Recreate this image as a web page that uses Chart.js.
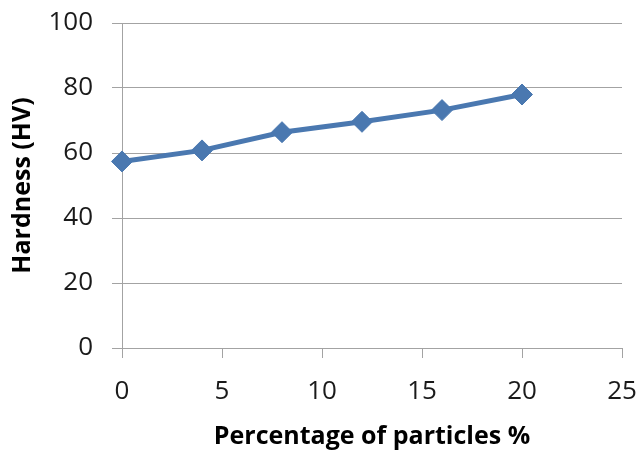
<!DOCTYPE html>
<html>
<head>
<meta charset="utf-8">
<script src="https://cdn.jsdelivr.net/npm/chart.js@4/dist/chart.umd.min.js"></script>
<style>
  html, body { margin: 0; padding: 0; background: #fff; }
  #wrap { width: 639px; height: 453px; }
</style>
</head>
<body>
<div id="wrap"><canvas id="c" width="639" height="453"></canvas></div>
<script>
// Vickers hardness versus reinforcement content
const particlePct = [0, 4, 8, 12, 16, 20];
const hardnessHV = [57.4, 60.8, 66.4, 69.6, 73.2, 78.0];
const xTickValues = [0, 5, 10, 15, 20, 25];
const yTickValues = [0, 20, 40, 60, 80, 100];

const lineBlue = '#4a78b0';
const gridGrey = '#a3a3a3';
const tickFont = { family: 'Open Sans', size: 26 };
const titleFont = { family: 'Open Sans', size: 25, weight: 'bold' };

// fixed axis box sizes; edge labels may overhang the plot area freely
function fixBox(size) {
  return s => {
    if (s.isHorizontal()) s.height = size; else s.width = size;
    s.paddingTop = 0; s.paddingBottom = 0; s.paddingLeft = 0; s.paddingRight = 0;
  };
}

new Chart(document.getElementById('c'), {
  type: 'scatter',
  data: {
    datasets: [{
      data: particlePct.map((x, i) => ({ x: x, y: hardnessHV[i] })),
      showLine: true,
      tension: 0,
      borderColor: lineBlue,
      borderWidth: 5,
      pointStyle: 'rectRot',
      pointRadius: 10.5,
      pointBackgroundColor: lineBlue,
      pointBorderColor: lineBlue,
      pointBorderWidth: 1,
      clip: false
    }]
  },
  options: {
    responsive: false,
    animation: false,
    devicePixelRatio: 1,
    layout: { padding: { top: 23, right: 17, bottom: 0, left: 0 } },
    plugins: { legend: { display: false }, tooltip: { enabled: false } },
    scales: {
      x: {
        type: 'linear',
        min: 0, max: 25,
        afterBuildTicks: s => { s.ticks = xTickValues.map(v => ({ value: v })); },
        afterFit: fixBox(105),
        grid: { drawOnChartArea: false, drawTicks: true, tickLength: 10, color: gridGrey },
        border: { color: gridGrey, width: 1 },
        ticks: { padding: 18, font: tickFont, color: '#1a1a1a', maxRotation: 0 },
        title: {
          display: true, text: 'Percentage of particles %',
          font: titleFont, color: '#000',
          padding: { top: 0, bottom: 1 }
        }
      },
      y: {
        type: 'linear',
        min: 0, max: 100,
        afterBuildTicks: s => { s.ticks = yTickValues.map(v => ({ value: v })); },
        afterFit: fixBox(122),
        grid: { color: gridGrey, tickLength: 10 },
        border: { color: gridGrey, width: 1 },
        ticks: { padding: 19, font: tickFont, color: '#1a1a1a' },
        title: {
          display: true, text: 'Hardness (HV)',
          font: titleFont, color: '#000',
          padding: { top: 8, bottom: 0 }
        }
      }
    }
  }
});
</script>
</body>
</html>
